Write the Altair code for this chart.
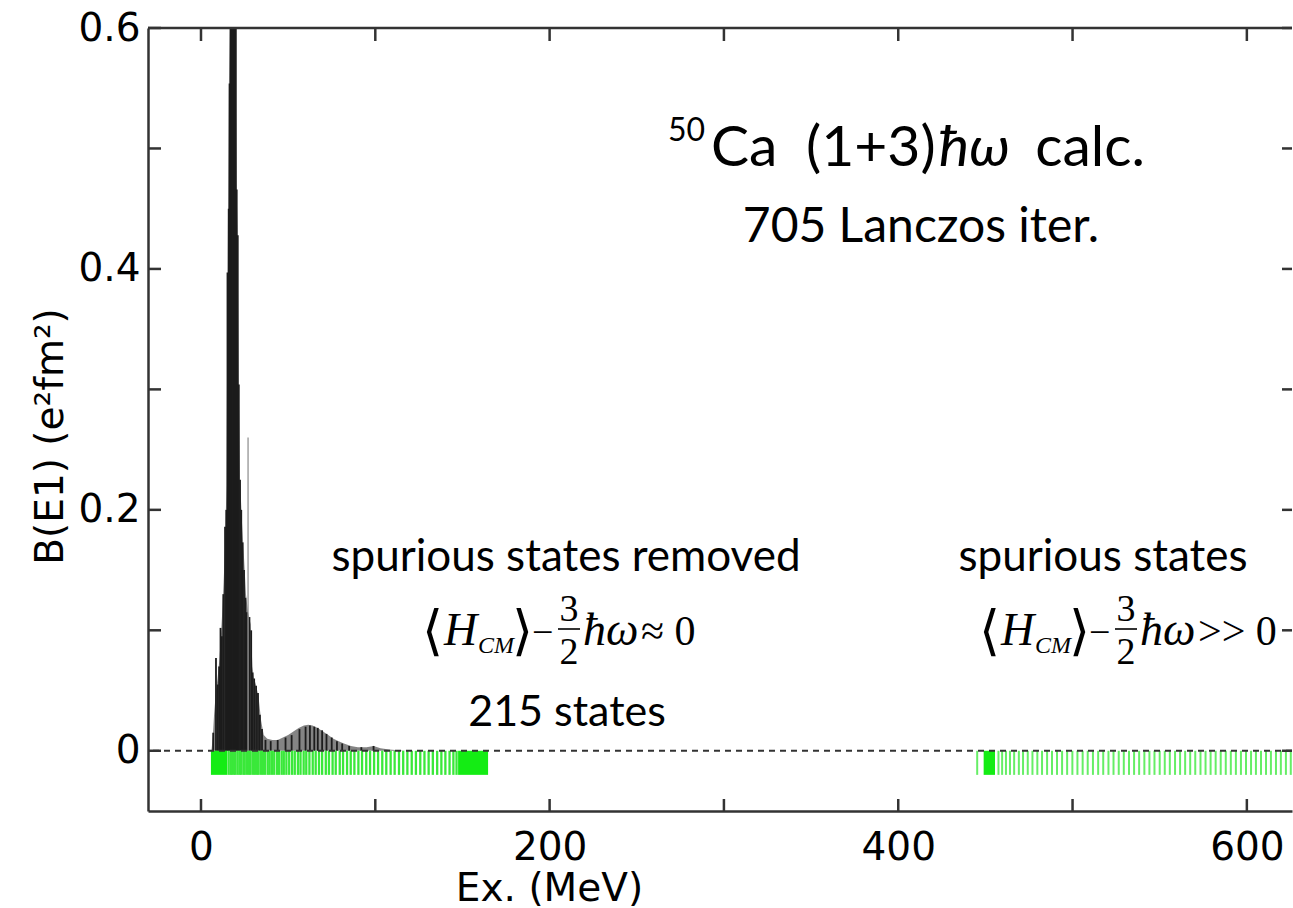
import altair as alt
import pandas as pd

# ---------------- data ----------------
# smoothed strength envelope (E in MeV, B(E1) in e^2 fm^2)
env_E = [6.0, 6.8, 7.5, 8.6, 9.5, 10.5, 11.2, 12.0, 13.0, 13.8, 14.6, 15.2, 16.0, 17.0,
         19.5, 20.4, 21.0, 21.6, 22.4, 23.5, 24.5, 25.8, 27.0, 28.5, 29.5, 30.4, 31.5,
         33.0, 34.5, 36.0, 38.0, 41.0, 44.0, 47.0, 50.0, 53.0, 56.0, 59.0, 61.5, 64.0,
         67.0, 70.0, 73.0, 76.0, 79.0, 82.0, 86.0, 90.0, 95.0, 99.0, 103.0, 108.0, 113.0, 118.0]
env_B = [0.0, 0.012, 0.03, 0.05, 0.06, 0.075, 0.09, 0.11, 0.14, 0.17, 0.22, 0.38, 0.55, 0.66,
         0.66, 0.47, 0.43, 0.31, 0.225, 0.19, 0.165, 0.13, 0.115, 0.105, 0.07, 0.06, 0.055,
         0.045, 0.025, 0.013, 0.010, 0.009, 0.009, 0.011, 0.013, 0.016, 0.019, 0.021, 0.0215, 0.021,
         0.019, 0.016, 0.013, 0.010, 0.008, 0.006, 0.004, 0.003, 0.003, 0.004, 0.002, 0.001, 0.0005, 0.0]

# discrete E1 strengths (sticks)
stick_E = [7.0, 8.6, 9.6, 10.4, 11.2, 12.0, 12.8, 13.8, 14.5, 15.2, 15.9, 16.4, 17.0, 17.6,
           18.2, 18.8, 19.4, 20.0, 20.5, 21.1, 21.7, 22.4, 23.1, 23.9, 24.7, 25.5, 26.3,
           27.8, 28.8, 29.6, 30.5, 31.6, 32.7, 33.8, 35.0, 37.0, 40.0, 44.0, 48.5, 52.0,
           56.5, 60.0, 62.5, 65.0, 67.0, 69.5, 72.0, 75.0, 78.0, 81.0, 85.0, 92.0, 99.0]
stick_B = [0.015, 0.077, 0.055, 0.07, 0.102, 0.095, 0.13, 0.186, 0.2, 0.397, 0.45, 0.554, 0.64, 0.7,
           0.75, 0.7, 0.66, 0.62, 0.466, 0.428, 0.304, 0.225, 0.2, 0.173, 0.15, 0.127, 0.115,
           0.111, 0.1, 0.065, 0.06, 0.054, 0.048, 0.03, 0.018, 0.009, 0.008, 0.009, 0.011, 0.013,
           0.018, 0.02, 0.021, 0.02, 0.019, 0.017, 0.014, 0.011, 0.008, 0.006, 0.004, 0.003, 0.004]
thin_E = [27.0]
thin_B = [0.26]

# eigenstate markers (green): dense clusters as bands, others as single lines
band_lo = [5.7, 147.5, 449.0]
band_hi = [15.0, 164.7, 455.5]
kept_E = [15.8, 16.9, 17.7, 18.9, 19.8, 21.0, 22.1, 23.0, 24.3, 25.1, 26.4, 27.6, 28.5, 29.9,
          31.0, 32.2, 33.1, 34.5, 35.6, 36.8, 38.3, 39.4, 40.7, 42.0, 43.6, 44.8, 46.3, 47.5,
          49.0, 50.6, 52.3, 53.8, 55.6, 57.1, 58.9, 60.4, 62.2, 64.1, 65.8, 67.7, 69.5, 71.6,
          73.4, 75.5, 77.3, 79.6, 81.5, 83.8, 85.9, 88.0, 90.3, 92.4, 94.8, 97.0, 99.3, 101.6,
          104.0, 106.3, 108.8, 111.1, 113.6, 116.0, 118.4, 120.9, 123.3, 125.8, 128.2, 130.6,
          133.0, 135.5, 137.9, 140.2, 142.6, 144.8, 146.6]
spur_E = [445.3, 457.5, 459.6, 461.8, 464.1, 466.5, 469.2, 471.6, 474.3, 477.0, 479.8, 482.5,
          485.4, 488.2, 491.1, 494.0, 496.9, 499.9, 502.8, 505.8, 508.7, 511.7, 514.7, 517.6,
          520.6, 523.5, 526.5, 529.4, 532.4, 535.3, 538.2, 541.2, 544.1, 547.0, 550.0, 552.9,
          555.8, 558.8, 561.7, 564.6, 567.5, 570.4, 573.4, 576.3, 579.2, 582.1, 585.0, 587.9,
          590.8, 593.7, 596.6, 599.5, 602.4, 605.2, 608.1, 611.0, 613.8, 616.7, 619.5, 622.4, 625.2]
state_depth = -0.02

x_ticks = [0, 100, 200, 300, 400, 500, 600]
x_labels = [0, 200, 400, 600]
y_ticks = [0, 0.1, 0.2, 0.3, 0.4, 0.5, 0.6]
y_labels = [0, 0.2, 0.4, 0.6]

# ---------------- layout ----------------
L, T = 148, 28
W, H = 1144, 783
XD = [-30.4, 625.9]
YD = [-0.05, 0.6]
FRAME = "#333333"


def xs():
    return alt.Scale(domain=XD, nice=False, zero=False)


def ys():
    return alt.Scale(domain=YD, nice=False, zero=False)


xax = alt.Axis(values=x_labels, title="Ex. (MeV)", ticks=False, tickSize=0, grid=False,
               domain=True, domainColor=FRAME, domainWidth=2.5,
               labelFont="DejaVu Sans", labelFontSize=39, labelColor="black", labelPadding=17,
               labelFlush=False, labelOverlap=False,
               titleFont="DejaVu Sans", titleFontSize=39, titleFontWeight="normal", titleColor="black",
               titleX=401, titleY=89, titleBaseline="alphabetic", titleAlign="center")
yax = alt.Axis(values=y_labels, labelExpr="datum.value == 0 ? '0' : format(datum.value, '.1f')",
               title="B(E1) (e²fm²)", ticks=False, tickSize=0, grid=False,
               domain=True, domainColor=FRAME, domainWidth=2.5,
               labelFont="DejaVu Sans", labelFontSize=39, labelColor="black", labelPadding=8,
               labelFlush=False, labelOverlap=False,
               titleFont="DejaVu Sans", titleFontSize=39, titleFontWeight="normal", titleColor="black",
               titleAngle=270, titleX=-86, titleY=408, titleBaseline="alphabetic", titleAlign="center")


def X(field):
    return alt.X(field, type="quantitative", scale=xs(), axis=xax)


def Y(field):
    return alt.Y(field, type="quantitative", scale=ys(), axis=yax)


env_df = pd.DataFrame({"E": env_E, "B": env_B, "z": [0.0] * len(env_E)})
stick_df = pd.DataFrame({"E": stick_E, "B": stick_B, "z": [0.0] * len(stick_E)})
thin_df = pd.DataFrame({"E": thin_E, "B": thin_B, "z": [0.0] * len(thin_E)})
band_df = pd.DataFrame({"a": band_lo, "b": band_hi, "top": [0.0] * len(band_lo),
                        "bot": [state_depth] * len(band_lo)})
kept_df = pd.DataFrame({"E": kept_E, "top": [0.0] * len(kept_E), "bot": [state_depth] * len(kept_E)})
spur_df = pd.DataFrame({"E": spur_E, "top": [0.0] * len(spur_E), "bot": [state_depth] * len(spur_E)})
xt_df = pd.DataFrame({"t": x_ticks})
yt_df = pd.DataFrame({"t": y_ticks})
zero_df = pd.DataFrame({"z": [0.0]})
dummy = pd.DataFrame({"k": [0]})

area = alt.Chart(env_df).mark_area(color="#848484", clip=True).encode(
    x=X("E"), y=Y("B"), y2="z:Q")
sticks = alt.Chart(stick_df).mark_rule(color="#1c1c1c", strokeWidth=1.8, clip=True).encode(
    x=X("E"), y=Y("z"), y2="B:Q")
thin = alt.Chart(thin_df).mark_rule(color="#8a8a8a", strokeWidth=1.2, clip=True).encode(
    x=X("E"), y=Y("z"), y2="B:Q")
bands = alt.Chart(band_df).mark_rect(color="#14ec14", clip=True).encode(
    x=X("a"), x2="b:Q", y=Y("top"), y2="bot:Q")
kept = alt.Chart(kept_df).mark_rule(color="#3ae83a", strokeWidth=2.3, clip=True).encode(
    x=X("E"), y=Y("top"), y2="bot:Q")
spur = alt.Chart(spur_df).mark_rule(color="#66ee66", strokeWidth=2.0, clip=True).encode(
    x=X("E"), y=Y("top"), y2="bot:Q")
zero = alt.Chart(zero_df).mark_rule(color=FRAME, strokeWidth=2, strokeDash=[6, 5]).encode(
    y=Y("z"))
top_line = alt.Chart(dummy).mark_rule(color=FRAME, strokeWidth=2.5).encode(y=alt.value(0))
tick_b = alt.Chart(xt_df).mark_rule(color=FRAME, strokeWidth=2.5).encode(
    x=X("t"), y=alt.value(H), y2=alt.value(H - 12))
tick_t = alt.Chart(xt_df).mark_rule(color=FRAME, strokeWidth=2.5).encode(
    x=X("t"), y=alt.value(0), y2=alt.value(13))
tick_l = alt.Chart(yt_df).mark_rule(color=FRAME, strokeWidth=2.5).encode(
    y=Y("t"), x=alt.value(0), x2=alt.value(13))
tick_r = alt.Chart(yt_df).mark_rule(color=FRAME, strokeWidth=2.5).encode(
    y=Y("t"), x=alt.value(W), x2=alt.value(W - 10))


def txt(s, px, py, size, font="Lato", style="normal", align="left", weight="normal"):
    return alt.Chart(dummy).mark_text(text=s, font=font, fontSize=size, fontStyle=style,
                                      fontWeight=weight, align=align, baseline="alphabetic",
                                      color="black").encode(
        x=alt.value(px - L), y=alt.value(py - T))


texts = [
    txt("50", 668, 141, 32),
    txt("Ca", 711, 166, 57),
    txt("(1+3)", 806, 166, 57),
    txt("ħω", 939, 166, 57, style="italic"),
    txt("calc.", 1145, 166, 57, align="right"),
    txt("705 Lanczos iter.", 921, 242, 48, align="center"),
    txt("spurious states removed", 566, 571, 44, align="center"),
    txt("215 states", 567, 726, 43, align="center"),
    txt("spurious states", 1103, 571, 44, align="center"),
]


def formula(x0, tail):
    serif = "Liberation Serif"
    parts = [
        txt("⟨", x0 + 4, 649, 54, font="DejaVu Sans", weight=200, align="center"),
        txt("H", x0 + 16, 645, 46, font=serif, style="italic"),
        txt("CM", x0 + 50, 653, 24, font=serif, style="italic"),
        txt("⟩", x0 + 94, 649, 54, font="DejaVu Sans", weight=200, align="center"),
        txt("−", x0 + 104, 645, 38, font=serif),
        txt("3", x0 + 141, 621, 38, font=serif, align="center"),
        txt("2", x0 + 141, 664, 38, font=serif, align="center"),
        txt("ħω", x0 + 155, 645, 46, font=serif, style="italic"),
        txt(tail, x0 + 213, 645, 42, font=serif),
        alt.Chart(dummy).mark_rule(color="black", strokeWidth=1.6).encode(
            x=alt.value(x0 + 130 - L), x2=alt.value(x0 + 152 - L), y=alt.value(629 - T)),
    ]
    return parts


layers = [area, sticks, thin, bands, kept, spur, zero, top_line, tick_b, tick_t, tick_l, tick_r]
layers += texts + formula(428, "≈ 0") + formula(985, ">> 0")

chart = alt.layer(*layers).properties(
    width=W, height=H,
    padding={"left": L, "top": T, "right": 1, "bottom": 908 - T - H},
    autosize="none",
).configure_view(stroke=None)

chart.save("out.html", embed_options={"renderer": "svg", "actions": False})
